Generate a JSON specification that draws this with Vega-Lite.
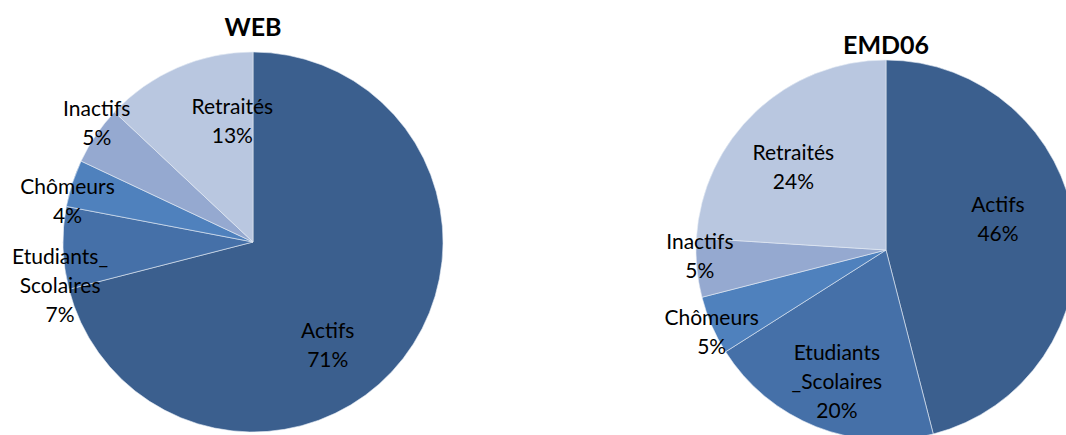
{
  "$schema": "https://vega.github.io/schema/vega-lite/v6.json",
  "padding": 0,
  "spacing": 0,
  "background": "white",
  "config": {"view": {"stroke": null}, "font": "Lato", "concat": {"spacing": 0},
    "text": {"fontSize": 21, "lineBreak": "\n", "lineHeight": 29, "color": "black"}},
  "datasets": {
    "web": [
      {"categorie": "Actifs", "pct": 71, "ord": 1, "label": "Actifs\n71%"},
      {"categorie": "Etudiants_Scolaires", "pct": 7, "ord": 2, "label": "Etudiants_\nScolaires\n7%"},
      {"categorie": "Chômeurs", "pct": 4, "ord": 3, "label": "Chômeurs\n4%"},
      {"categorie": "Inactifs", "pct": 5, "ord": 4, "label": "Inactifs\n5%"},
      {"categorie": "Retraités", "pct": 13, "ord": 5, "label": "Retraités\n13%"}
    ],
    "emd": [
      {"categorie": "Actifs", "pct": 46, "ord": 1, "label": "Actifs\n46%"},
      {"categorie": "Etudiants_Scolaires", "pct": 20, "ord": 2, "label": "Etudiants\n_Scolaires\n20%"},
      {"categorie": "Chômeurs", "pct": 5, "ord": 3, "label": "Chômeurs\n5%"},
      {"categorie": "Inactifs", "pct": 5, "ord": 4, "label": "Inactifs\n5%"},
      {"categorie": "Retraités", "pct": 24, "ord": 5, "label": "Retraités\n24%"}
    ]
  },
  "hconcat": [
    {
      "width": 506,
      "height": 484,
      "data": {"name": "web"},
      "title": {"text": "WEB", "fontSize": 25, "fontWeight": "bold", "font": "Lato", "color": "black", "offset": -41, "anchor": "middle"},
      "encoding": {
        "theta": {"field": "pct", "type": "quantitative", "stack": true},
        "order": {"field": "ord", "type": "quantitative"}
      },
      "layer": [
        {
          "mark": {"type": "arc", "radius": 190, "stroke": "#E6ECF5", "strokeWidth": 0.6},
          "encoding": {
            "color": {"field": "categorie", "type": "nominal", "legend": null,
              "scale": {"domain": ["Actifs", "Etudiants_Scolaires", "Chômeurs", "Inactifs", "Retraités"],
                        "range": ["#3B5F8E", "#4570A8", "#4F81BD", "#95A9D0", "#B9C7E0"]}}
          }
        },
        {
          "mark": {"type": "text", "radius": 125, "dx": -24, "dy": 13},
          "encoding": {"text": {"condition": {"test": "datum.categorie == 'Actifs'", "field": "label"}, "value": ""}}
        },
        {
          "mark": {"type": "text", "radius": 125, "dx": 29, "dy": -19},
          "encoding": {"text": {"condition": {"test": "datum.categorie == 'Retraités'", "field": "label"}, "value": ""}}
        },
        {
          "mark": {"type": "text", "radius": 195, "dx": 5, "dy": -22},
          "encoding": {"text": {"condition": {"test": "datum.categorie == 'Inactifs'", "field": "label"}, "value": ""}}
        },
        {
          "mark": {"type": "text", "radius": 195, "dx": 0, "dy": 6},
          "encoding": {"text": {"condition": {"test": "datum.categorie == 'Chômeurs'", "field": "label"}, "value": ""}}
        },
        {
          "mark": {"type": "text", "radius": 195, "dx": 2, "dy": 10},
          "encoding": {"text": {"condition": {"test": "datum.categorie == 'Etudiants_Scolaires'", "field": "label"}, "value": ""}}
        }
      ]
    },
    {
      "width": 760,
      "height": 500,
      "data": {"name": "emd"},
      "title": {"text": "EMD06", "fontSize": 25, "fontWeight": "bold", "font": "Lato", "color": "black", "offset": -59, "anchor": "middle"},
      "encoding": {
        "theta": {"field": "pct", "type": "quantitative", "stack": true},
        "order": {"field": "ord", "type": "quantitative"}
      },
      "layer": [
        {
          "mark": {"type": "arc", "radius": 190, "stroke": "#E6ECF5", "strokeWidth": 0.6},
          "encoding": {
            "color": {"field": "categorie", "type": "nominal", "legend": null,
              "scale": {"domain": ["Actifs", "Etudiants_Scolaires", "Chômeurs", "Inactifs", "Retraités"],
                        "range": ["#3B5F8E", "#4570A8", "#4F81BD", "#95A9D0", "#B9C7E0"]}}
          }
        },
        {
          "mark": {"type": "text", "radius": 128, "dx": -15, "dy": -28},
          "encoding": {"text": {"condition": {"test": "datum.categorie == 'Actifs'", "field": "label"}, "value": ""}}
        },
        {
          "mark": {"type": "text", "radius": 128, "dx": -2, "dy": -15},
          "encoding": {"text": {"condition": {"test": "datum.categorie == 'Etudiants_Scolaires'", "field": "label"}, "value": ""}}
        },
        {
          "mark": {"type": "text", "radius": 128, "dx": -5, "dy": -3},
          "encoding": {"text": {"condition": {"test": "datum.categorie == 'Retraités'", "field": "label"}, "value": ""}}
        },
        {
          "mark": {"type": "text", "radius": 190, "dx": 3, "dy": -25},
          "encoding": {"text": {"condition": {"test": "datum.categorie == 'Inactifs'", "field": "label"}, "value": ""}}
        },
        {
          "mark": {"type": "text", "radius": 190, "dx": 0, "dy": -6},
          "encoding": {"text": {"condition": {"test": "datum.categorie == 'Chômeurs'", "field": "label"}, "value": ""}}
        }
      ]
    }
  ]
}
